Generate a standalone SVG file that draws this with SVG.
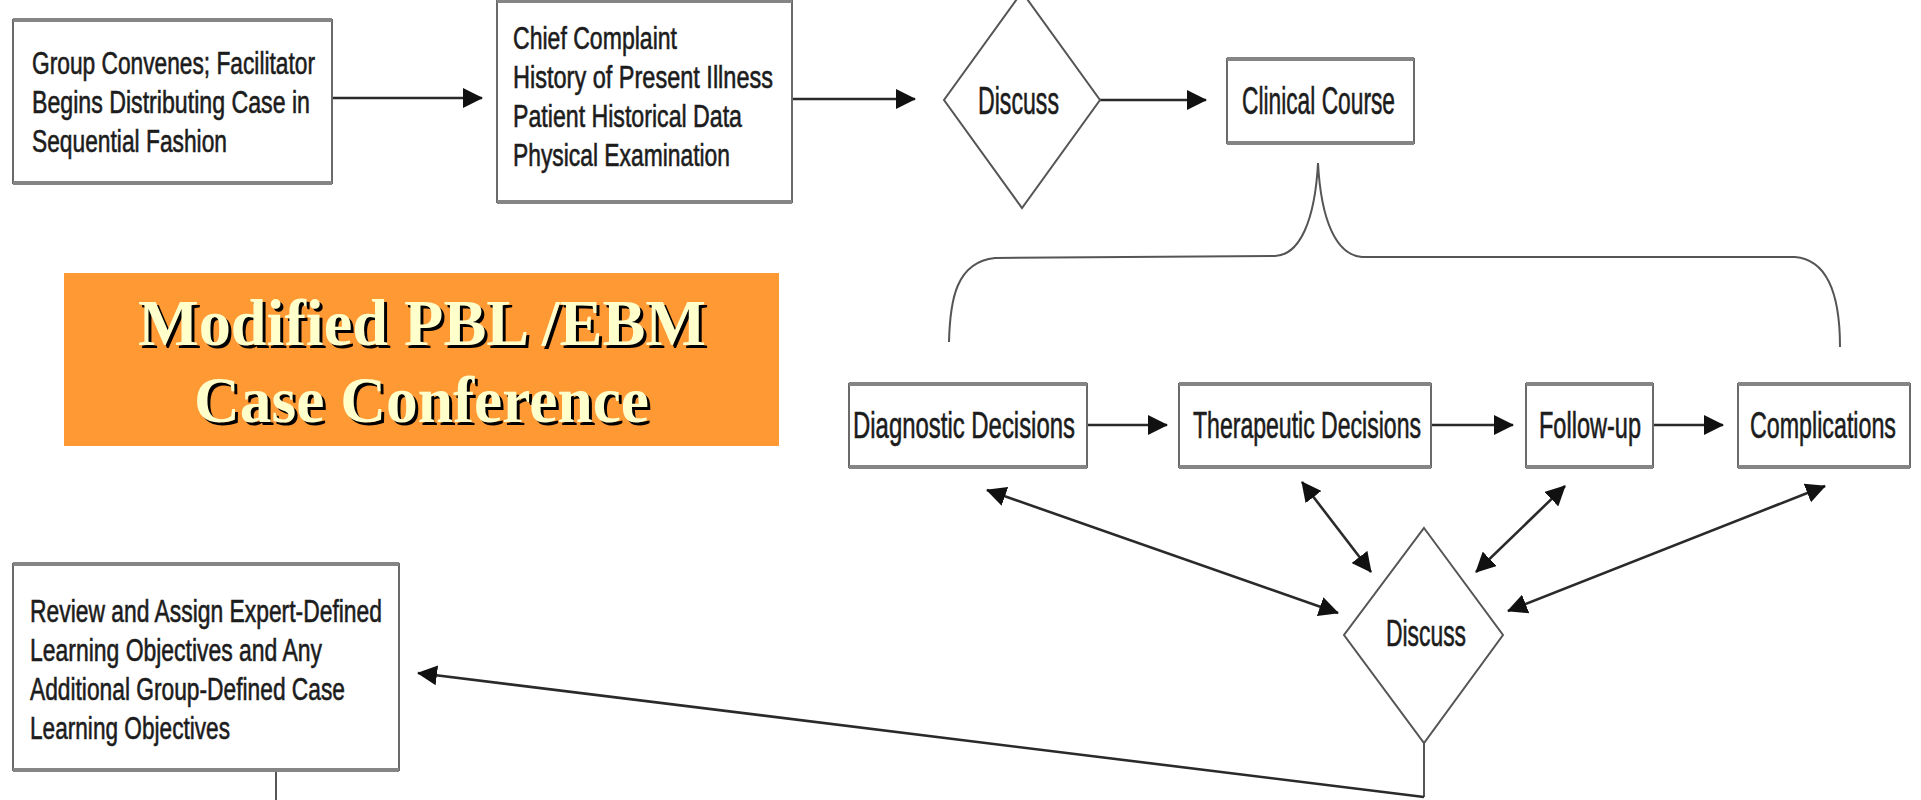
<svg xmlns="http://www.w3.org/2000/svg" width="1921" height="800" viewBox="0 0 1921 800">
<defs>
<style>
.box{fill:#fff;stroke:#6a6a6a;stroke-width:2}
.edge{stroke:#858585;stroke-width:4;fill:none}
.dia{fill:#fff;stroke:#555;stroke-width:2}
.t{font-family:"Liberation Sans",Arial,sans-serif;fill:#1c1c1c;stroke:#1c1c1c;stroke-width:0.6}
.s30{font-size:31px}
.s35{font-size:36px}
.s37{font-size:38px}
.con{fill:none;stroke:#2a2a2a;stroke-width:2.6}
.thin{fill:none;stroke:#555;stroke-width:2}
.ttl{font-family:"Liberation Serif","Times New Roman",serif;font-weight:bold;font-size:66px}
</style>
<marker id="ah" viewBox="0 0 20 20" markerUnits="userSpaceOnUse" markerWidth="20" markerHeight="20" refX="19" refY="10" orient="auto-start-reverse">
<path d="M0,0 L20,10 L0,20 z" fill="#111"/>
</marker>
</defs>
<rect width="1921" height="800" fill="#fff"/>

<g id="connectors">
<path class="con" d="M332 98 L482 98" marker-end="url(#ah)"/>
<path class="con" d="M792 99 L915 99" marker-end="url(#ah)"/>
<path class="con" d="M1100 100 L1206 100" marker-end="url(#ah)"/>
<path class="con" d="M1087 425 L1167 425" marker-end="url(#ah)"/>
<path class="con" d="M1431 425 L1513 425" marker-end="url(#ah)"/>
<path class="con" d="M1653 425 L1723 425" marker-end="url(#ah)"/>
<path class="con" d="M987 490 L1338 613" marker-start="url(#ah)" marker-end="url(#ah)"/>
<path class="con" d="M1302 482 L1371 572" marker-start="url(#ah)" marker-end="url(#ah)"/>
<path class="con" d="M1565 486 L1476 572" marker-start="url(#ah)" marker-end="url(#ah)"/>
<path class="con" d="M1825 486 L1508 611" marker-start="url(#ah)" marker-end="url(#ah)"/>
<path class="thin" d="M1424 743 L1424 797"/>
<path class="con" d="M1424 797 L418 673" marker-end="url(#ah)"/>
<path class="thin" d="M276 770 L276 800"/>
<path class="thin" d="M949 342 C950 300 956 262 995 258 L1275 256 C1300 255 1315 220 1318 163 C1321 220 1336 255 1362 257 L1795 257 C1830 260 1840 300 1840 347"/>
</g>

<g id="title">
<rect x="64" y="273" width="715" height="173" fill="#FF9933"/>
<text class="ttl" x="141" y="348" textLength="568" lengthAdjust="spacingAndGlyphs" fill="#000">Modified PBL /EBM</text>
<text class="ttl" x="138" y="345" textLength="568" lengthAdjust="spacingAndGlyphs" fill="#FFFFCC">Modified PBL /EBM</text>
<text class="ttl" x="197" y="425" textLength="455" lengthAdjust="spacingAndGlyphs" fill="#000">Case Conference</text>
<text class="ttl" x="194" y="422" textLength="455" lengthAdjust="spacingAndGlyphs" fill="#FFFFCC">Case Conference</text>
</g>

<g id="group-convenes">
<rect class="box" x="13" y="20" width="319" height="163"/>
<path class="edge" d="M13 20 H332 M13 183 H332"/>
<text class="t s30" x="32" y="74" textLength="283" lengthAdjust="spacingAndGlyphs">Group Convenes; Facilitator</text>
<text class="t s30" x="32" y="113" textLength="278" lengthAdjust="spacingAndGlyphs">Begins Distributing Case in</text>
<text class="t s30" x="32" y="152" textLength="195" lengthAdjust="spacingAndGlyphs">Sequential Fashion</text>
</g>

<g id="history">
<rect class="box" x="497" y="1" width="295" height="201"/>
<path class="edge" d="M497 1 H792 M497 202 H792"/>
<text class="t s30" x="513" y="49" textLength="164" lengthAdjust="spacingAndGlyphs">Chief Complaint</text>
<text class="t s30" x="513" y="88" textLength="260" lengthAdjust="spacingAndGlyphs">History of Present Illness</text>
<text class="t s30" x="513" y="127" textLength="229" lengthAdjust="spacingAndGlyphs">Patient Historical Data</text>
<text class="t s30" x="513" y="166" textLength="217" lengthAdjust="spacingAndGlyphs">Physical Examination</text>
</g>

<g id="discuss-1">
<polygon class="dia" points="1022,-8 1100,100 1022,208 944,100"/>
<text class="t s37" x="978" y="114" textLength="81" lengthAdjust="spacingAndGlyphs">Discuss</text>
</g>

<g id="clinical-course">
<rect class="box" x="1227" y="59" width="187" height="84"/>
<path class="edge" d="M1227 59 H1414 M1227 143 H1414"/>
<text class="t s37" x="1242" y="114" textLength="153" lengthAdjust="spacingAndGlyphs">Clinical Course</text>
</g>

<g id="diagnostic">
<rect class="box" x="849" y="384" width="238" height="83"/>
<path class="edge" d="M849 384 H1087 M849 467 H1087"/>
<text class="t s35" x="853" y="438" textLength="222" lengthAdjust="spacingAndGlyphs">Diagnostic Decisions</text>
</g>

<g id="therapeutic">
<rect class="box" x="1179" y="384" width="252" height="83"/>
<path class="edge" d="M1179 384 H1431 M1179 467 H1431"/>
<text class="t s35" x="1193" y="438" textLength="228" lengthAdjust="spacingAndGlyphs">Therapeutic Decisions</text>
</g>

<g id="follow-up">
<rect class="box" x="1526" y="384" width="127" height="83"/>
<path class="edge" d="M1526 384 H1653 M1526 467 H1653"/>
<text class="t s35" x="1539" y="438" textLength="102" lengthAdjust="spacingAndGlyphs">Follow-up</text>
</g>

<g id="complications">
<rect class="box" x="1738" y="384" width="172" height="83"/>
<path class="edge" d="M1738 384 H1910 M1738 467 H1910"/>
<text class="t s35" x="1750" y="438" textLength="146" lengthAdjust="spacingAndGlyphs">Complications</text>
</g>

<g id="discuss-2">
<polygon class="dia" points="1424,528 1503,635 1424,743 1344,635"/>
<text class="t s35" x="1386" y="646" textLength="80" lengthAdjust="spacingAndGlyphs">Discuss</text>
</g>

<g id="review">
<rect class="box" x="13" y="564" width="386" height="206"/>
<path class="edge" d="M13 564 H399 M13 770 H399"/>
<text class="t s30" x="30" y="622" textLength="352" lengthAdjust="spacingAndGlyphs">Review and Assign Expert-Defined</text>
<text class="t s30" x="30" y="661" textLength="292" lengthAdjust="spacingAndGlyphs">Learning Objectives and Any</text>
<text class="t s30" x="30" y="700" textLength="315" lengthAdjust="spacingAndGlyphs">Additional Group-Defined Case</text>
<text class="t s30" x="30" y="739" textLength="200" lengthAdjust="spacingAndGlyphs">Learning Objectives</text>
</g>
</svg>
